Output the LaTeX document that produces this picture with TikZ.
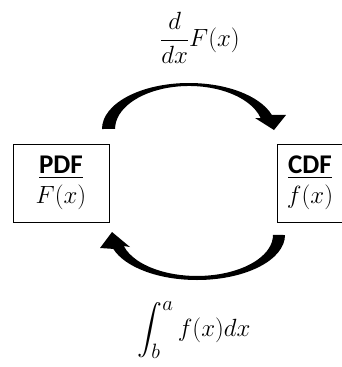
\documentclass[tikz,border=0pt]{standalone}
\usepackage{amsmath}
\usepackage{fontspec}
\newfontfamily\calibri{Carlito}
\usepackage{tikz}

\begin{document}
\begin{tikzpicture}[x=1pt, y=-1pt,
    box/.style={draw, thin, align=center, inner sep=2pt, minimum height=78pt, font=\fontsize{27}{30}\selectfont},
    curvedarrow/.style={fill=black, draw=none},
    formula/.style={font=\fontsize{28}{32}\selectfont, inner sep=0pt}
]
\useasboundingbox (0,0) rectangle (341,367);

% Boxes
\node[box, minimum width=96pt] (pdf) at (61,183) {\underline{\calibri\bfseries PDF}\\$F(x)$};
\node[box, minimum width=66pt] (cdf) at (310,183) {\underline{\calibri\bfseries CDF}\\$f(x)$};

% Curved arrows (filled, tapering)
\fill[curvedarrow] (102,129) arc[start angle=180, end angle=342, x radius=87, y radius=46]
    -- (286,115) -- (274,130) -- (255,118) -- (260.6,118)
    arc[start angle=345.2, end angle=180, x radius=74, y radius=43] -- cycle;
\fill[curvedarrow] (285,235) arc[start angle=0, end angle=162, x radius=88, y radius=45]
    -- (100,248) -- (112,232) -- (130,247) -- (123.8,246)
    arc[start angle=164.4, end angle=0, x radius=76, y radius=41] -- cycle;

% Labels
\node[formula] (deriv) at (200,38) {$\dfrac{d}{dx}F(x)$};
\node[formula] (integ) at (194,330) {$\displaystyle\int_b^a f(x)dx$};

\end{tikzpicture}
\end{document}
